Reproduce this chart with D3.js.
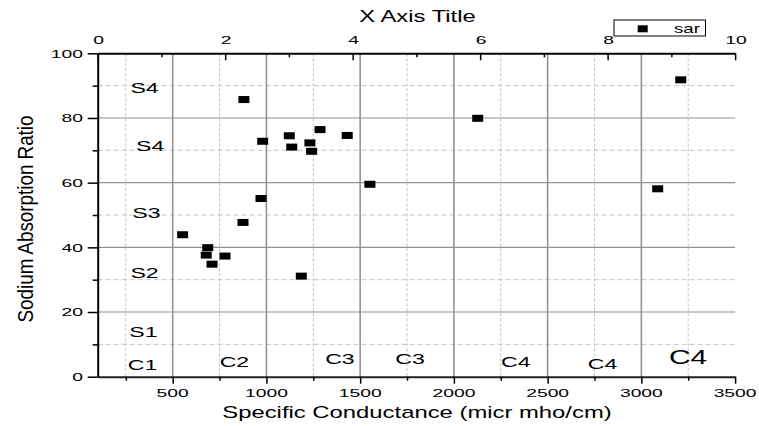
<!DOCTYPE html>
<html>
<head>
<meta charset="utf-8">
<script src="https://cdn.jsdelivr.net/npm/d3@7"></script>
<style>
  html, body { margin: 0; padding: 0; background: #fff; }
  svg { display: block; }
  text { font-family: "Liberation Sans", Arial, sans-serif; fill: #000; }
</style>
</head>
<body>
<div id="chart"></div>
<script>
// ---- data ----
const conductance = [880, 980, 1122, 1135, 1232, 1241, 1286, 1431, 1552, 971, 2127, 3210, 3087, 553, 687, 679, 710, 779, 875, 1186];
const sarValues   = [85.7, 72.8, 74.5, 71.0, 72.3, 69.7, 76.4, 74.6, 59.5, 55.1, 79.9, 91.8, 58.1, 43.9, 39.9, 37.6, 34.8, 37.3, 47.7, 31.1];

const xTickValues = [500, 1000, 1500, 2000, 2500, 3000, 3500];
const xMinorValues = [250, 750, 1250, 1750, 2250, 2750, 3250];
const yTickValues = [0, 20, 40, 60, 80, 100];
const yMinorValues = [10, 30, 50, 70, 90];
const topTickValues = [0, 2, 4, 6, 8, 10];
const topMinorValues = [1, 3, 5, 7, 9];

const zoneLabels = ["S4", "S4", "S3", "S2", "S1", "C1", "C2", "C3", "C3", "C4", "C4", "C4"];
const zoneX      = [350, 380, 360, 350, 344, 339, 829, 1392, 1766, 2330, 2793, 3249];
const zoneY      = [87.6, 69.7, 49.1, 30.5, 12.4, 2.1, 2.9, 3.9, 3.9, 2.9, 2.3, 3.9];
const zoneBig    = [false, false, false, false, false, false, false, false, false, false, false, true];

const seriesName = "sar";
const xTitle = "Specific Conductance (micr mho/cm)";
const yTitle = "Sodium Absorption Ratio";
const topTitle = "X Axis Title";

// ---- layout ----
const W = 759, H = 426;
const L = 97.7, R = 735.1, T = 53.3, B = 376.7;

const svg = d3.select("#chart").append("svg").attr("width", W).attr("height", H);

const x = d3.scaleLinear().domain([100, 3500]).range([L, R]);
const xTop = d3.scaleLinear().domain([0, 10]).range([L, R]);
const y = d3.scaleLinear().domain([0, 100]).range([B, T]);

// helper for horizontally stretched text
function stext(parent, px, py, str, size, sx, anchor, rot) {
  const g = parent.append("g")
    .attr("transform", `translate(${px},${py})` + (rot ? ` rotate(${rot})` : "") + ` scale(${sx},1)`);
  g.append("text").attr("x", 0).attr("y", 0)
    .attr("text-anchor", anchor || "middle")
    .attr("font-size", size).text(str);
  return g;
}

// ---- grid ----
const grid = svg.append("g");
grid.selectAll(".vminor").data(xMinorValues).join("line")
  .attr("x1", d => x(d)).attr("x2", d => x(d)).attr("y1", T).attr("y2", B)
  .attr("stroke", "#c4c4c4").attr("stroke-width", 1).attr("stroke-dasharray", "3,2");
grid.selectAll(".hminor").data(yMinorValues).join("line")
  .attr("x1", L).attr("x2", R).attr("y1", d => y(d)).attr("y2", d => y(d))
  .attr("stroke", "#c4c4c4").attr("stroke-width", 1).attr("stroke-dasharray", "5,3");
grid.selectAll(".vmajor").data(xTickValues.filter(d => d < 3500)).join("line")
  .attr("x1", d => x(d)).attr("x2", d => x(d)).attr("y1", T).attr("y2", B)
  .attr("stroke", "#929292").attr("stroke-width", 1.6);
grid.selectAll(".hmajor").data(yTickValues.filter(d => d > 0 && d < 100)).join("line")
  .attr("x1", L).attr("x2", R).attr("y1", d => y(d)).attr("y2", d => y(d))
  .attr("stroke", "#929292").attr("stroke-width", 1.2);

// ---- axes (built with d3 axes, restyled) ----
const bottomAxis = svg.append("g").attr("transform", `translate(0,${B})`)
  .call(d3.axisBottom(x).tickValues(xTickValues).tickSize(7).tickSizeOuter(0).tickFormat(""));
svg.append("g").attr("transform", `translate(0,${B})`)
  .call(d3.axisBottom(x).tickValues(xMinorValues).tickSize(4).tickSizeOuter(0).tickFormat(""))
  .select(".domain").remove();
const leftAxis = svg.append("g").attr("transform", `translate(${L},0)`)
  .call(d3.axisLeft(y).tickValues(yTickValues).tickSize(10).tickSizeOuter(0).tickFormat(""));
svg.append("g").attr("transform", `translate(${L},0)`)
  .call(d3.axisLeft(y).tickValues(yMinorValues).tickSize(5).tickSizeOuter(0).tickFormat(""))
  .select(".domain").remove();
const topAxis = svg.append("g").attr("transform", `translate(0,${T})`)
  .call(d3.axisBottom(xTop).tickValues(topTickValues).tickSize(7).tickSizeOuter(0).tickFormat(""));
svg.append("g").attr("transform", `translate(0,${T})`)
  .call(d3.axisBottom(xTop).tickValues(topMinorValues).tickSize(4).tickSizeOuter(0).tickFormat(""))
  .select(".domain").remove();

svg.selectAll(".domain").attr("stroke", "#000").attr("stroke-width", 2);
svg.selectAll(".tick line").attr("stroke", "#000").attr("stroke-width", 1.5);
bottomAxis.select(".domain").attr("stroke", "#222");

// tick labels
const tickFont = 11.5, tickSx = 1.68;
xTickValues.forEach(v => stext(svg, x(v), 397, d3.format("d")(v), tickFont, tickSx, "middle"));
topTickValues.forEach(v => stext(svg, xTop(v) + 1, 44, d3.format("d")(v), tickFont, tickSx, "middle"));
yTickValues.forEach(v => stext(svg, 83, y(v) + 4.2, d3.format("d")(v), tickFont, tickSx, "end"));

// ---- zone labels ----
zoneLabels.forEach((s, i) => {
  stext(svg, x(zoneX[i]), y(zoneY[i]), s, zoneBig[i] ? 20 : 14, zoneBig[i] ? 1.5 : 1.65, "middle");
});

// ---- points ----
const mw = 11, mh = 7;
svg.append("g").selectAll("rect").data(conductance.map((c, i) => [c, sarValues[i]])).join("rect")
  .attr("x", d => x(d[0]) - mw / 2).attr("y", d => y(d[1]) - mh / 2)
  .attr("width", mw).attr("height", mh).attr("fill", "#000");

// ---- titles ----
stext(svg, 417, 418, xTitle, 16, 1.49, "middle");
stext(svg, 417.5, 21.5, topTitle, 16, 1.49, "middle");
stext(svg, 33, 219, yTitle, 21.5, 0.875, "middle", -90);

// ---- legend ----
const lg = svg.append("g");
lg.append("rect").attr("x", 614).attr("y", 20).attr("width", 91.5).attr("height", 16)
  .attr("fill", "#fff").attr("stroke", "#000").attr("stroke-width", 1);
lg.append("rect").attr("x", 637.7).attr("y", 25.3).attr("width", 10).attr("height", 7).attr("fill", "#000");
stext(lg, 674, 33.3, seriesName, 13, 1.44, "start");
</script>
</body>
</html>
